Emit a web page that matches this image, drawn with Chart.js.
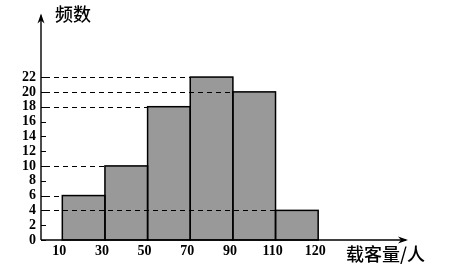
<!DOCTYPE html>
<html>
<head>
<meta charset="utf-8">
<script src="https://cdn.jsdelivr.net/npm/chart.js@4/dist/chart.umd.min.js"></script>
<style>
  html, body { margin: 0; padding: 0; background: #fff; }
  #wrap { width: 461px; height: 275px; }
</style>
</head>
<body>
<div id="wrap"><canvas id="histChart"></canvas></div>
<script>
// edge labels under the bar boundaries, and the count of each bin
const edgeLabels = ['10', '30', '50', '70', '90', '110', '120'];
const counts = [6, 10, 18, 22, 20, 4];
const yTicks = [0, 2, 4, 6, 8, 10, 12, 14, 16, 18, 20, 22];

const yTitle = '频数';
const xTitle = '载客量/人';

const tickFont = { family: 'Liberation Serif', size: 14, weight: 'bold' };

// axes, arrows, dashed guide lines and bar outlines
const decorPlugin = {
    id: 'decor',
    afterDatasetsDraw(chart) {
        const c = chart.ctx;
        const ys = chart.scales.y;
        const area = chart.chartArea;
        const x0 = area.left;
        const y0 = ys.getPixelForValue(0);
        const bars = chart.getDatasetMeta(0).data;

        c.save();
        c.strokeStyle = '#000';

        // outlines
        c.lineWidth = 1.5;
        bars.forEach(b => {
            const l = b.x - b.width / 2;
            c.strokeRect(l, b.y, b.width, y0 - b.y);
        });

        // dashed lines from the axis to each bar's left edge
        c.lineWidth = 1;
        c.setLineDash([5, 4]);
        bars.forEach((b, i) => {
            const y = Math.round(ys.getPixelForValue(counts[i])) + 0.5;
            c.beginPath();
            c.moveTo(x0 + 4, y);
            c.lineTo(b.x - b.width / 2, y);
            c.stroke();
        });
        c.setLineDash([]);

        // small ticks inside the y axis
        yTicks.forEach(v => {
            const y = Math.round(ys.getPixelForValue(v)) + 0.5;
            c.beginPath();
            c.moveTo(x0, y);
            c.lineTo(x0 + 5, y);
            c.stroke();
        });

        // axes
        c.lineWidth = 1.4;
        c.beginPath();
        c.moveTo(x0, y0);
        c.lineTo(x0, area.top + 2);
        c.moveTo(x0, y0);
        c.lineTo(area.right, y0);
        c.stroke();

        // arrow heads
        c.fillStyle = '#000';
        c.beginPath();
        c.moveTo(x0, area.top);
        c.lineTo(x0 - 3.5, area.top + 10);
        c.lineTo(x0, area.top + 7);
        c.lineTo(x0 + 3.5, area.top + 10);
        c.closePath();
        c.fill();
        c.beginPath();
        c.moveTo(area.right + 2, y0);
        c.lineTo(area.right - 8, y0 - 3.5);
        c.lineTo(area.right - 5, y0);
        c.lineTo(area.right - 8, y0 + 3.5);
        c.closePath();
        c.fill();

        // titles
        c.font = '500 18px "Noto Sans CJK SC"';
        c.textBaseline = 'middle';
        c.textAlign = 'left';
        c.fillText(yTitle, 55, 14);
        c.fillText(xTitle, 346, 254);
        c.restore();
    }
};

new Chart(document.getElementById('histChart').getContext('2d'), {
    type: 'bar',
    data: {
        datasets: [{
            data: counts.map((v, i) => ({ x: i + 0.5, y: v })),
            backgroundColor: '#999999',
            borderWidth: 0,
            categoryPercentage: 1,
            barPercentage: 1
        }]
    },
    options: {
        responsive: true,
        maintainAspectRatio: false,
        animation: false,
        layout: { padding: { left: 0, top: 13, right: 55, bottom: 0 } },
        plugins: { legend: { display: false }, tooltip: { enabled: false } },
        scales: {
            x: {
                type: 'linear',
                offset: false,
                min: -0.5,
                max: 8.06,
                afterBuildTicks: s => { s.ticks = edgeLabels.map((l, i) => ({ value: i })); },
                afterFit: s => { s.height = 35; },
                ticks: {
                    autoSkip: false,
                    maxRotation: 0,
                    padding: 3,
                    labelOffset: -3,
                    color: '#000',
                    font: tickFont,
                    callback: (v, i) => edgeLabels[i]
                },
                grid: { display: false, drawTicks: false, offset: false },
                border: { display: false }
            },
            y: {
                min: 0,
                max: 30.6,
                afterBuildTicks: s => { s.ticks = yTicks.map(v => ({ value: v })); },
                afterFit: s => { s.width = 41; },
                ticks: {
                    autoSkip: false,
                    padding: 5,
                    color: '#000',
                    font: tickFont
                },
                grid: { display: false, drawTicks: false },
                border: { display: false }
            }
        }
    },
    plugins: [decorPlugin]
});
</script>
</body>
</html>
